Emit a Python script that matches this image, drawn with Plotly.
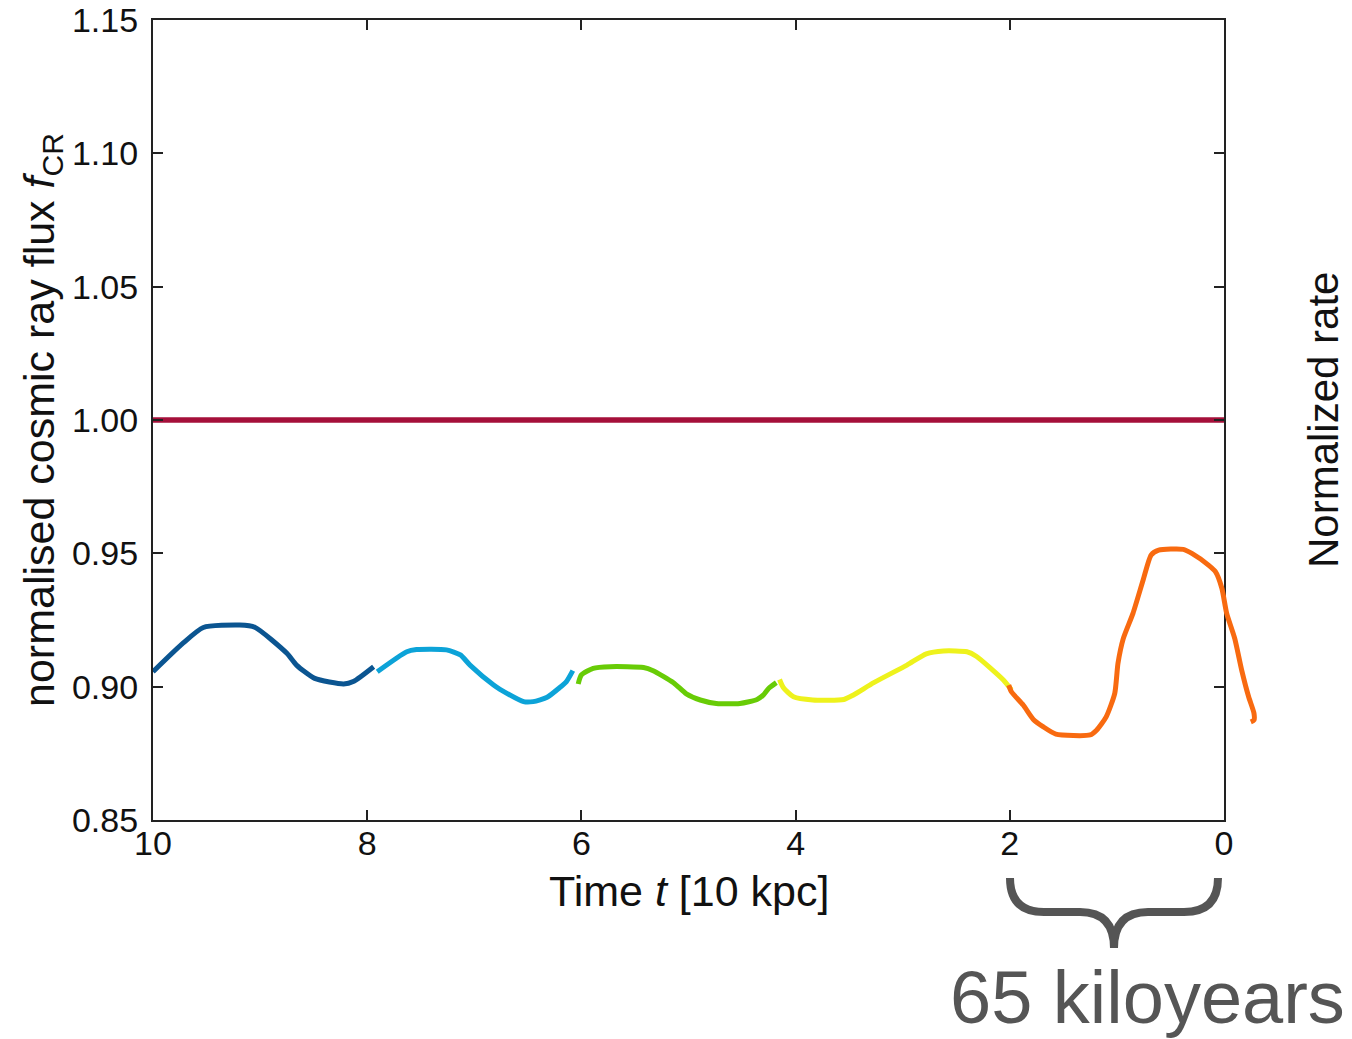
import plotly.graph_objects as go

# Time axis in units of 10 kpc (runs from 10 down to 0) and normalised flux values
t_seg1 = [10.0, 9.72, 9.53, 9.19, 9.05, 8.75, 8.66, 8.49, 8.22, 8.13, 7.94]
f_seg1 = [0.9056, 0.9163, 0.9222, 0.9231, 0.9223, 0.9125, 0.9081, 0.9031, 0.9010, 0.9019, 0.9075]

t_seg2 = [7.906, 7.63, 7.54, 7.26, 7.13, 7.04, 6.82, 6.76, 6.54, 6.45, 6.32, 6.21, 6.14, 6.08]
f_seg2 = [0.9056, 0.9131, 0.9139, 0.9138, 0.9119, 0.9081, 0.9006, 0.8990, 0.8944, 0.8944, 0.8960, 0.8994, 0.9019, 0.9060]

t_seg3 = [6.03, 6.00, 5.89, 5.73, 5.42, 5.33, 5.14, 5.02, 4.89, 4.74, 4.52, 4.36, 4.30, 4.25, 4.18]
f_seg3 = [0.9010, 0.9044, 0.9069, 0.9075, 0.9072, 0.9060, 0.9015, 0.8973, 0.8950, 0.8937, 0.8937, 0.8952, 0.8969, 0.8994, 0.9015]

t_seg4 = [4.15, 4.115, 4.02, 3.84, 3.55, 3.46, 3.27, 2.96, 2.78, 2.62, 2.40, 2.31, 2.06, 1.985]
f_seg4 = [0.9027, 0.8997, 0.8962, 0.8950, 0.8952, 0.8969, 0.9015, 0.9081, 0.9123, 0.9134, 0.9131, 0.9113, 0.9025, 0.8988]

t_seg5 = [2.01, 1.985, 1.875, 1.78, 1.69, 1.57, 1.25, 1.19, 1.10, 1.02, 0.99, 0.94, 0.85, 0.755,
          0.68, 0.61, 0.38, 0.30, 0.145, 0.08, 0.02, -0.025, -0.10, -0.165, -0.23, -0.28, -0.28, -0.25]
f_seg5 = [0.9006, 0.8981, 0.8931, 0.8877, 0.8850, 0.8822, 0.8819, 0.8837, 0.8887, 0.8975, 0.9087, 0.9181,
          0.9275, 0.9400, 0.9494, 0.9512, 0.9515, 0.9500, 0.9456, 0.9431, 0.9369, 0.9275, 0.9181, 0.9062,
          0.8962, 0.8900, 0.8875, 0.8868]

t_ref = [10.0, 0.0]
f_ref = [1.0, 1.0]

seg_colors = ["#0b5591", "#0ca3d8", "#68cc06", "#eef21c", "#f86a10"]
ref_color = "#a5103a"

x_ticks = [10, 8, 6, 4, 2, 0]
y_ticks = [0.85, 0.90, 0.95, 1.00, 1.05, 1.10, 1.15]
y_tick_text = ["0.85", "0.90", "0.95", "1.00", "1.05", "1.10", "1.15"]

W, H = 1352, 1039
L, R, T, B = 153, 90, 20, 219
axis_px = 1224 - L                  # width of the framed axes box
area_px = W - L - R                 # full plotting area (lets the last curve run past the frame)
x_dom_end = axis_px / area_px
x_lo, x_hi = 10.0, 0.0
x2_hi = x_lo - (x_lo - x_hi) * area_px / axis_px

FONT = "Liberation Sans, Arial, sans-serif"

fig = go.Figure()

fig.add_trace(go.Scatter(x=t_ref, y=f_ref, mode="lines",
                         line=dict(color=ref_color, width=5.5), hoverinfo="skip"))

for tt, ff, c in zip([t_seg1, t_seg2, t_seg3, t_seg4],
                     [f_seg1, f_seg2, f_seg3, f_seg4], seg_colors[:4]):
    fig.add_trace(go.Scatter(x=tt, y=ff, mode="lines",
                             line=dict(color=c, width=5, shape="spline", smoothing=0.6)))

# the most recent segment overruns the right edge of the frame
fig.add_trace(go.Scatter(x=t_seg5, y=f_seg5, mode="lines", xaxis="x2", yaxis="y",
                         line=dict(color=seg_colors[4], width=5, shape="spline", smoothing=0.6)))

axis_common = dict(showgrid=False, zeroline=False, showline=True, linecolor="#222",
                   linewidth=2.2, ticks="inside", ticklen=10, tickwidth=2, tickcolor="#222",
                   mirror="ticks", automargin=False,
                   tickfont=dict(family=FONT, size=34, color="#111"))

fig.update_layout(
    width=W, height=H,
    margin=dict(l=L, r=R, t=T, b=B, pad=0, autoexpand=False),
    paper_bgcolor="white", plot_bgcolor="rgba(0,0,0,0)",
    showlegend=False,
    xaxis=dict(range=[x_lo, x_hi], domain=[0, x_dom_end], tickvals=x_ticks,
               ticktext=[str(v) for v in x_ticks], anchor="y", ticklabelstandoff=-8,
               **axis_common),
    xaxis2=dict(range=[x_lo, x2_hi], domain=[0, 1], anchor="y", visible=False,
                showgrid=False, zeroline=False),
    yaxis=dict(range=[0.85, 1.15], domain=[0, 1], tickvals=y_ticks, ticktext=y_tick_text,
               anchor="x", ticklabelstandoff=6, **axis_common),
)

# axis titles
fig.add_annotation(text="Time <i>t</i> [10 kpc]", xref="paper", yref="paper",
                   x=0.5 * x_dom_end, y=0, yshift=-71, xanchor="center", yanchor="middle",
                   showarrow=False, font=dict(family=FONT, size=43, color="#111"))
fig.add_annotation(text="normalised cosmic ray flux <i>f</i><sub>CR</sub>", xref="paper", yref="paper",
                   x=0, xshift=-(L - 42), y=0.5, textangle=-90, xanchor="center", yanchor="middle",
                   showarrow=False, font=dict(family=FONT, size=43, color="#111"))
fig.add_annotation(text="Normalized rate", xref="paper", yref="paper",
                   x=1, xshift=(1323 - (W - R)), y=0.5, textangle=-90, xanchor="center",
                   yanchor="middle", showarrow=False, font=dict(family=FONT, size=42, color="#111"))

# curly brace spanning the last 2 units, with its label
bx0, bx1, bxm = 1010, 1218, 1114
by0, by1, by2 = 878, 912, 948
def px(x):
    return (x - L) / area_px
def py(y):
    return (H - B - y) / (H - T - B)
brace = (f"M {px(bx0)},{py(by0)} "
         f"Q {px(bx0)},{py(by1)} {px(bx0 + 34)},{py(by1)} "
         f"L {px(bxm - 34)},{py(by1)} "
         f"Q {px(bxm)},{py(by1)} {px(bxm)},{py(by2)} "
         f"Q {px(bxm)},{py(by1)} {px(bxm + 34)},{py(by1)} "
         f"L {px(bx1 - 34)},{py(by1)} "
         f"Q {px(bx1)},{py(by1)} {px(bx1)},{py(by0)}")
fig.add_shape(type="path", path=brace, xref="paper", yref="paper",
              line=dict(color="#555555", width=8))
fig.add_annotation(text="65 kiloyears", xref="paper", yref="paper",
                   x=px(1147), y=py(998), xanchor="center", yanchor="middle", showarrow=False,
                   font=dict(family=FONT, size=74, color="#555555"))

fig.write_html("out.html")
